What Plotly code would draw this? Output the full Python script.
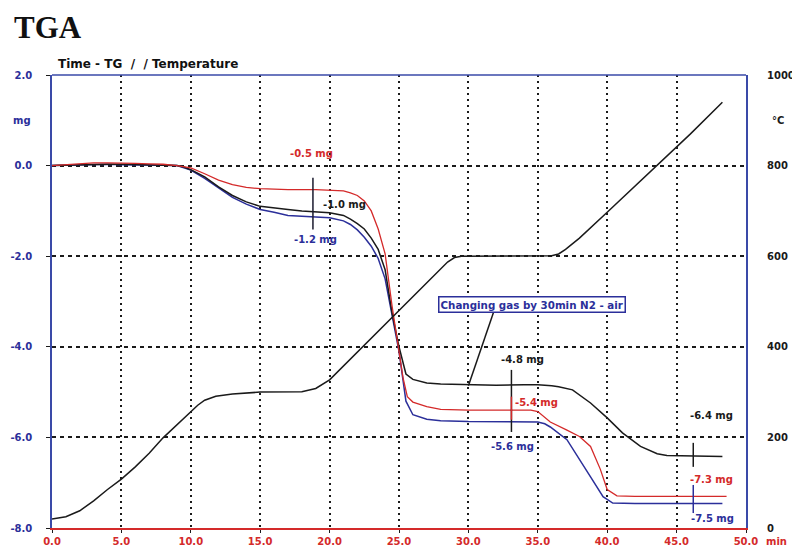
import plotly.graph_objects as go

# ---------------- data ----------------
temp_t = [0, 1, 2, 3, 4, 5, 6, 7, 8, 9, 10, 10.5, 11, 11.8, 13, 15, 18, 19, 20,
          22, 24, 26, 28, 28.5, 29, 29.5, 36, 36.5, 37, 38, 40, 42, 44, 46, 48.3]
temp_c = [20, 25, 38, 60, 85, 108, 135, 165, 199, 228, 256, 271, 282, 291, 296, 300, 301, 308, 327,
          388, 450, 511, 572, 587, 597, 600, 601, 605, 615, 640, 697, 755, 813, 870, 940]

black_t = [0, 1, 2, 3, 4, 5, 6, 7, 8, 9, 9.5, 10, 11, 12, 13, 14, 15, 16, 17, 18, 19, 20,
           21, 21.5, 22, 22.5, 23, 23.5, 24, 24.5, 25, 25.5, 26, 27, 28, 30, 32, 34, 35, 36,
           36.5, 37.5, 38.8, 40, 41.1, 42.4, 43.6, 44.3, 48.3]
black_mg = [0.0, 0.01, 0.02, 0.03, 0.03, 0.03, 0.02, 0.02, 0.01, 0.0, -0.03, -0.09, -0.25, -0.47,
            -0.66, -0.8, -0.9, -0.94, -0.97, -1.0, -1.02, -1.04, -1.1, -1.18, -1.28, -1.4, -1.6,
            -1.85, -2.3, -3.25, -4.0, -4.6, -4.72, -4.8, -4.82, -4.84, -4.85, -4.84, -4.84,
            -4.86, -4.88, -4.95, -5.24, -5.57, -5.9, -6.2, -6.36, -6.4, -6.42]

red_t = [0, 1, 2, 3, 4, 5, 6, 7, 8, 9, 10, 11, 12, 13, 14, 15, 17, 19, 20, 21, 21.5, 22, 22.5,
         23, 23.5, 24, 24.5, 25, 25.3, 25.6, 26, 27, 28, 30, 34.5, 35, 35.9, 37.1, 38, 38.8,
         39.5, 40, 40.7, 42, 48.6]
red_mg = [0.0, 0.02, 0.05, 0.06, 0.06, 0.06, 0.05, 0.04, 0.03, 0.0, -0.05, -0.18, -0.32, -0.42,
          -0.48, -0.51, -0.53, -0.53, -0.54, -0.56, -0.6, -0.66, -0.78, -1.0, -1.4, -1.95, -3.1,
          -4.1, -4.7, -5.1, -5.22, -5.32, -5.38, -5.4, -5.4, -5.43, -5.66, -5.84, -5.98, -6.2,
          -6.7, -7.15, -7.29, -7.3, -7.3]

blue_t = [0, 1, 2, 3, 4, 5, 6, 7, 8, 9, 10, 11, 12, 13, 14, 15, 16, 17, 18, 19, 20, 21, 21.5,
          22, 22.5, 23, 23.5, 24, 24.5, 25, 25.5, 26, 27, 28, 30, 35, 35.5, 35.9, 37.1, 38, 38.8,
          39.7, 40.4, 42, 48.3]
blue_mg = [0.0, 0.01, 0.02, 0.02, 0.03, 0.02, 0.02, 0.01, 0.01, 0.0, -0.1, -0.28, -0.5, -0.7,
           -0.85, -0.97, -1.03, -1.1, -1.12, -1.13, -1.15, -1.22, -1.3, -1.42, -1.58, -1.78,
           -2.05, -2.5, -3.3, -4.1, -5.2, -5.5, -5.6, -5.63, -5.65, -5.66, -5.7, -5.77, -6.05,
           -6.5, -6.87, -7.31, -7.45, -7.46, -7.46]

# step markers: (time, mg_from, mg_to, colour)
markers = [
    (18.8, -0.27, -1.41, "#1a1a2e"),
    (33.1, -4.51, -5.88, "#1a1a1a"),
    (33.1, -5.10, -5.61, "#d42a2a"),
    (46.2, -6.12, -6.65, "#1a1a1a"),
    (46.2, -7.05, -7.67, "#2b2f9a"),
]

# step labels: (text, time, mg, colour)
labels = [
    ("-0.5 mg", 18.7, 0.27, "#d42a2a"),
    ("-1.0 mg", 21.1, -0.86, "#1a1a1a"),
    ("-1.2 mg", 19.0, -1.64, "#2b2f9a"),
    ("-4.8 mg", 33.9, -4.29, "#1a1a1a"),
    ("-5.4 mg", 34.9, -5.22, "#d42a2a"),
    ("-5.6 mg", 33.2, -6.19, "#2b2f9a"),
    ("-6.4 mg", 47.5, -5.52, "#1a1a1a"),
    ("-7.3 mg", 47.5, -6.94, "#d42a2a"),
    ("-7.5 mg", 47.6, -7.78, "#2b2f9a"),
]

# gas-change callout: pointer from curve point to the box
gas_text = "Changing gas by 30min N2 - air"
gas_pointer_t = [30.0, 31.8]
gas_pointer_mg = [-4.86, -3.25]
gas_box_t, gas_box_mg = 34.6, -3.07

x_ticks = [0, 5, 10, 15, 20, 25, 30, 35, 40, 45, 50]
x_ticktext = ["0.0", "5.0", "10.0", "15.0", "20.0", "25.0", "30.0", "35.0", "40.0", "45.0", "50.0"]
y_ticks = [-8, -6, -4, -2, 0, 2]
y_ticktext = ["-8.0", "-6.0", "-4.0", "-2.0", "0.0", "2.0"]
y2_ticks = [0, 200, 400, 600, 800, 1000]

# ---------------- styling ----------------
BLUE = "#2b2f9a"
RED = "#d42a2a"
BLACK = "#1a1a1a"
AXBLUE = "#3a4aa8"
FONT = "DejaVu Sans, Verdana, sans-serif"
PW, PH = 694, 453  # plot area size in px

fig = go.Figure()

fig.add_trace(go.Scatter(x=temp_t, y=temp_c, yaxis="y2", mode="lines",
                         line=dict(color=BLACK, width=1.5), showlegend=False))
fig.add_trace(go.Scatter(x=blue_t, y=blue_mg, mode="lines",
                         line=dict(color=BLUE, width=1.5), showlegend=False))
fig.add_trace(go.Scatter(x=black_t, y=black_mg, mode="lines",
                         line=dict(color=BLACK, width=1.5), showlegend=False))
fig.add_trace(go.Scatter(x=red_t, y=red_mg, mode="lines",
                         line=dict(color=RED, width=1.3), showlegend=False))

for t, m0, m1, c in markers:
    fig.add_trace(go.Scatter(x=[t, t], y=[m0, m1], mode="lines",
                             line=dict(color=c, width=1.5), showlegend=False))

fig.add_trace(go.Scatter(x=gas_pointer_t, y=gas_pointer_mg, mode="lines",
                         line=dict(color=BLACK, width=1.5), showlegend=False))

annotations = []
for txt, t, m, c in labels:
    annotations.append(dict(x=t, y=m, xref="x", yref="y", text=txt, showarrow=False,
                            font=dict(family=FONT, size=10, color=c, weight="bold")))

annotations.append(dict(x=gas_box_t, y=gas_box_mg, xref="x", yref="y", text=gas_text,
                        showarrow=False, bgcolor="white", bordercolor=BLUE, borderwidth=1.5,
                        borderpad=1, font=dict(family=FONT, size=10.3, color=BLUE, weight="bold")))

# the page body adds an 8px offset, so the figure is 8px smaller and margins compensate
fig.update_layout(
    width=792, height=544,
    margin=dict(l=44, r=54, t=67, b=24),
    paper_bgcolor="white", plot_bgcolor="white",
    showlegend=False,
    xaxis=dict(range=[0, 50], tickvals=x_ticks, ticktext=x_ticktext, automargin=False,
               showline=True, linecolor=RED, linewidth=1.5,
               showgrid=True, gridcolor=BLACK, gridwidth=1.5, griddash="2px,4px",
               ticks="outside", ticklen=3, tickcolor=BLACK, zeroline=False,
               tickfont=dict(family=FONT, size=10, color=RED, weight="bold")),
    yaxis=dict(range=[-8, 2], tickvals=y_ticks, ticktext=y_ticktext, automargin=False,
               showline=True, linecolor=AXBLUE, linewidth=1.5, mirror=True,
               showgrid=True, gridcolor=BLACK, gridwidth=1.5, griddash="4px,4px",
               ticks="outside", ticklen=4, tickcolor=BLACK, zeroline=False,
               ticklabelstandoff=12,
               tickfont=dict(family=FONT, size=10, color=BLUE, weight="bold")),
    yaxis2=dict(range=[0, 1000], tickvals=y2_ticks, overlaying="y", side="right", automargin=False,
                showgrid=False, zeroline=False, showline=False, ticks="",
                ticklabelstandoff=20,
                tickfont=dict(family=FONT, size=10, color=BLACK, weight="bold")),
    annotations=annotations,
)

# top frame line (blue)
fig.add_shape(type="line", xref="paper", yref="paper", x0=0, x1=1, y0=1, y1=1,
              line=dict(color=AXBLUE, width=1.5))

fig.add_annotation(text="TGA", xref="paper", yref="paper", x=-40 / PW, y=1 + 67 / PH,
                   xanchor="left", yanchor="top", showarrow=False,
                   font=dict(family="Liberation Serif, DejaVu Serif, serif", size=31, color="#111", weight="bold"))
fig.add_annotation(text="Time - TG  /  / Temperature", xref="paper", yref="paper",
                   x=4 / PW, y=1 + 2 / PH, xanchor="left", yanchor="bottom", showarrow=False,
                   font=dict(family=FONT, size=12, color="#111", weight="bold"))
fig.add_annotation(text="mg", xref="paper", yref="y", x=-30 / PW, y=1.0, xanchor="center",
                   showarrow=False, font=dict(family=FONT, size=10, color=BLUE, weight="bold"))
fig.add_annotation(text="°C", xref="paper", yref="y2", x=1 + 24 / PW, y=900, xanchor="left",
                   showarrow=False, font=dict(family=FONT, size=10, color=BLACK, weight="bold"))
fig.add_annotation(text="min", xref="paper", yref="paper", x=1 + 18 / PW, y=-13 / PH, xanchor="left",
                   yanchor="middle", showarrow=False,
                   font=dict(family=FONT, size=10, color=RED, weight="bold"))

fig.write_html("out.html")
